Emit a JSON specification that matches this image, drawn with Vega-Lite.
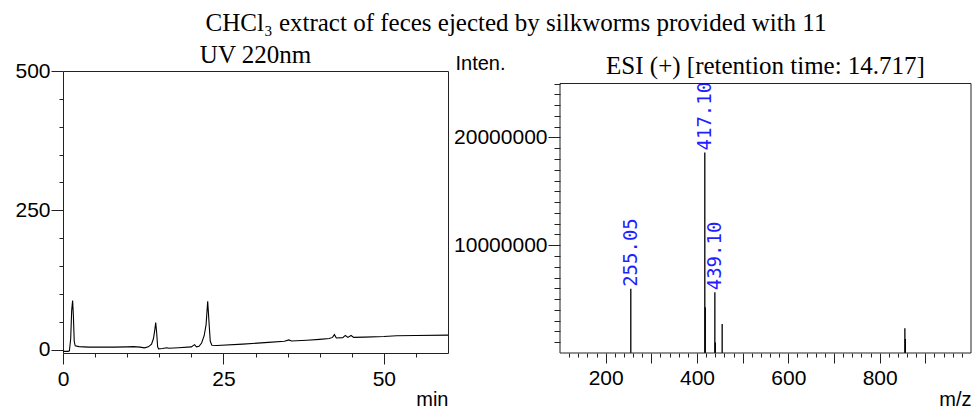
{
  "$schema": "https://vega.github.io/schema/vega-lite/v6.json",
  "background": "white",
  "padding": {"left": 14, "top": 10, "right": 2, "bottom": 0},
  "spacing": 4,
  "title": {
    "text": "CHCl₃ extract of feces ejected by silkworms provided with 11",
    "font": "Liberation Serif",
    "fontSize": 25,
    "fontWeight": "normal",
    "color": "black",
    "anchor": "middle",
    "dx": 23,
    "offset": 7
  },
  "config": {
    "view": {"stroke": "#222", "strokeWidth": 1},
    "axis": {
      "grid": false,
      "domain": false,
      "labelFont": "Liberation Sans",
      "labelFontSize": 21,
      "labelColor": "black",
      "tickColor": "#222",
      "titleFont": "Liberation Sans",
      "titleFontSize": 20,
      "titleFontWeight": "normal",
      "titleColor": "black",
      "labelFlush": false,
      "labelOverlap": false
    }
  },
  "hconcat": [
    {
      "width": 385,
      "height": 282,
      "title": {"text": "UV 220nm", "font": "Liberation Serif", "fontSize": 25, "fontWeight": "normal", "color": "black", "offset": -8},
      "data": {
        "values": [
          {"t": 0, "v": -3}, {"t": 0.8, "v": -3}, {"t": 1.0, "v": -2}, {"t": 1.2, "v": 20},
          {"t": 1.35, "v": 70}, {"t": 1.5, "v": 88}, {"t": 1.62, "v": 60}, {"t": 1.75, "v": 15},
          {"t": 1.9, "v": 7}, {"t": 2.5, "v": 5.5}, {"t": 4, "v": 4.5}, {"t": 6, "v": 4.5},
          {"t": 8, "v": 4.5}, {"t": 10, "v": 5}, {"t": 11, "v": 5.5}, {"t": 12, "v": 4.5},
          {"t": 12.7, "v": 3.2}, {"t": 13.3, "v": 5}, {"t": 13.8, "v": 10}, {"t": 14.1, "v": 20},
          {"t": 14.3, "v": 35}, {"t": 14.45, "v": 48.5}, {"t": 14.6, "v": 30}, {"t": 14.75, "v": 5},
          {"t": 14.9, "v": 1.5}, {"t": 15.5, "v": 2}, {"t": 16.2, "v": 3.5}, {"t": 16.5, "v": 2.5},
          {"t": 18, "v": 3.5}, {"t": 20, "v": 5}, {"t": 20.5, "v": 9}, {"t": 20.8, "v": 5},
          {"t": 21.2, "v": 6}, {"t": 21.6, "v": 12}, {"t": 22, "v": 25}, {"t": 22.3, "v": 45},
          {"t": 22.55, "v": 87}, {"t": 22.75, "v": 50}, {"t": 22.95, "v": 15}, {"t": 23.2, "v": 8},
          {"t": 24, "v": 7.5}, {"t": 28, "v": 10}, {"t": 32, "v": 13}, {"t": 34.5, "v": 15},
          {"t": 35.2, "v": 17.5}, {"t": 35.6, "v": 15.5}, {"t": 38, "v": 17}, {"t": 40, "v": 18.5},
          {"t": 41.5, "v": 20}, {"t": 42, "v": 22}, {"t": 42.3, "v": 27}, {"t": 42.6, "v": 21},
          {"t": 43.6, "v": 21.5}, {"t": 44, "v": 25.5}, {"t": 44.4, "v": 22}, {"t": 44.9, "v": 25.5},
          {"t": 45.3, "v": 22}, {"t": 47, "v": 22.5}, {"t": 50, "v": 23.5}, {"t": 52, "v": 25},
          {"t": 55, "v": 25.5}, {"t": 60, "v": 26}
        ]
      },
      "mark": {"type": "line", "color": "black", "strokeWidth": 1.1, "clip": true},
      "encoding": {
        "x": {
          "field": "t",
          "type": "quantitative",
          "scale": {"domain": [0, 60], "nice": false},
          "axis": {
            "values": [0, 5, 10, 15, 20, 25, 30, 35, 40, 45, 50, 55],
            "labelExpr": "datum.value % 25 === 0 ? datum.label : ''",
            "tickSize": {"condition": {"test": "datum.value % 25 === 0", "value": 11}, "value": 4},
            "labelPadding": 4,
            "title": "min",
            "titleAnchor": "end",
            "titleAlign": "right",
            "titleBaseline": "alphabetic",
            "titleX": 385,
            "titleY": 52
          }
        },
        "y": {
          "field": "v",
          "type": "quantitative",
          "scale": {"domain": [-6, 500], "nice": false, "zero": false},
          "axis": {
            "values": [0, 50, 100, 150, 200, 250, 300, 350, 400, 450, 500],
            "labelExpr": "datum.value % 250 === 0 ? datum.label : ''",
            "tickSize": {"condition": {"test": "datum.value % 250 === 0", "value": 12}, "value": 4},
            "labelPadding": 1,
            "title": null
          }
        }
      }
    },
    {
      "width": 411,
      "height": 282,
      "view": {"stroke": null},
      "title": {"text": "ESI (+) [retention time: 14.717]", "font": "Liberation Serif", "fontSize": 25, "fontWeight": "normal", "color": "black", "offset": -26},
      "data": {
        "values": [
          {"mz": 255.05, "inten": 5950000, "label": "255.05"},
          {"mz": 417.10, "inten": 18600000, "label": "417.10"},
          {"mz": 418.1, "inten": 4240000, "label": ""},
          {"mz": 439.10, "inten": 5630000, "label": "439.10"},
          {"mz": 440.1, "inten": 980000, "label": ""},
          {"mz": 455.1, "inten": 2700000, "label": ""},
          {"mz": 855.2, "inten": 2290000, "label": ""},
          {"mz": 856.2, "inten": 1300000, "label": ""}
        ]
      },
      "layer": [
        {
          "mark": {"type": "rule", "color": "black", "strokeWidth": 1.3},
          "encoding": {
            "x": {
              "field": "mz", "type": "quantitative",
              "scale": {"domain": [100, 1000], "nice": false, "zero": false},
              "axis": {"values": [120, 140, 160, 180, 200, 220, 240, 260, 280, 300, 320, 340, 360, 380, 400, 420, 440, 460, 480, 500, 520, 540, 560, 580, 600, 620, 640, 660, 680, 700, 720, 740, 760, 780, 800, 820, 840, 860, 880, 900, 920, 940, 960, 980], "labelExpr": "datum.value % 200 === 0 ? datum.label : ''", "tickSize": {"condition": {"test": "datum.value % 100 === 0", "value": 10}, "value": 4}, "labelPadding": 4, "title": "m/z", "titleAnchor": "end", "titleAlign": "right", "titleBaseline": "alphabetic", "titleX": 411, "titleY": 52}
            },
            "y": {
              "field": "inten", "type": "quantitative",
              "scale": {"domain": [0, 26160000], "nice": false},
              "axis": {"values": [1000000, 2000000, 3000000, 4000000, 5000000, 6000000, 7000000, 8000000, 9000000, 10000000, 11000000, 12000000, 13000000, 14000000, 15000000, 16000000, 17000000, 18000000, 19000000, 20000000, 21000000, 22000000, 23000000, 24000000, 25000000], "labelExpr": "datum.value % 10000000 === 0 ? format(datum.value, 'd') : ''", "tickSize": {"condition": {"test": "datum.value % 10000000 === 0", "value": 12}, "value": 6}, "labelPadding": 1, "title": "Inten.", "titleAngle": 0, "titleAlign": "left", "titleBaseline": "alphabetic", "titleX": -105, "titleY": -2}
            },
            "y2": {"datum": 0}
          }
        },
        {
          "transform": [{"filter": "datum.label !== ''"}],
          "mark": {"type": "text", "angle": 270, "align": "left", "baseline": "middle", "dx": 2, "font": "DejaVu Sans Mono", "fontSize": 19, "color": "#1f1fff"},
          "encoding": {
            "x": {
              "field": "mz", "type": "quantitative",
              "scale": {"domain": [100, 1000], "nice": false, "zero": false},
              "axis": {"values": [120, 140, 160, 180, 200, 220, 240, 260, 280, 300, 320, 340, 360, 380, 400, 420, 440, 460, 480, 500, 520, 540, 560, 580, 600, 620, 640, 660, 680, 700, 720, 740, 760, 780, 800, 820, 840, 860, 880, 900, 920, 940, 960, 980], "labelExpr": "datum.value % 200 === 0 ? datum.label : ''", "tickSize": {"condition": {"test": "datum.value % 100 === 0", "value": 10}, "value": 4}, "labelPadding": 4, "title": "m/z", "titleAnchor": "end", "titleAlign": "right", "titleBaseline": "alphabetic", "titleX": 411, "titleY": 52}
            },
            "y": {
              "field": "inten", "type": "quantitative",
              "scale": {"domain": [0, 26160000], "nice": false},
              "axis": {"values": [1000000, 2000000, 3000000, 4000000, 5000000, 6000000, 7000000, 8000000, 9000000, 10000000, 11000000, 12000000, 13000000, 14000000, 15000000, 16000000, 17000000, 18000000, 19000000, 20000000, 21000000, 22000000, 23000000, 24000000, 25000000], "labelExpr": "datum.value % 10000000 === 0 ? format(datum.value, 'd') : ''", "tickSize": {"condition": {"test": "datum.value % 10000000 === 0", "value": 12}, "value": 6}, "labelPadding": 1, "title": "Inten.", "titleAngle": 0, "titleAlign": "left", "titleBaseline": "alphabetic", "titleX": -105, "titleY": -2}
            },
            "text": {"field": "label", "type": "nominal"}
          }
        },
        {
          "data": {"values": [{"edge": "left"}]},
          "mark": {"type": "rule", "color": "#222", "strokeWidth": 1},
          "encoding": {
            "x": {
              "datum": 100, "type": "quantitative",
              "scale": {"domain": [100, 1000], "nice": false, "zero": false},
              "axis": {"values": [120, 140, 160, 180, 200, 220, 240, 260, 280, 300, 320, 340, 360, 380, 400, 420, 440, 460, 480, 500, 520, 540, 560, 580, 600, 620, 640, 660, 680, 700, 720, 740, 760, 780, 800, 820, 840, 860, 880, 900, 920, 940, 960, 980], "labelExpr": "datum.value % 200 === 0 ? datum.label : ''", "tickSize": {"condition": {"test": "datum.value % 100 === 0", "value": 10}, "value": 4}, "labelPadding": 4, "title": "m/z", "titleAnchor": "end", "titleAlign": "right", "titleBaseline": "alphabetic", "titleX": 411, "titleY": 52}
            },
            "y": {
              "datum": 0, "type": "quantitative",
              "scale": {"domain": [0, 26160000], "nice": false},
              "axis": {"values": [1000000, 2000000, 3000000, 4000000, 5000000, 6000000, 7000000, 8000000, 9000000, 10000000, 11000000, 12000000, 13000000, 14000000, 15000000, 16000000, 17000000, 18000000, 19000000, 20000000, 21000000, 22000000, 23000000, 24000000, 25000000], "labelExpr": "datum.value % 10000000 === 0 ? format(datum.value, 'd') : ''", "tickSize": {"condition": {"test": "datum.value % 10000000 === 0", "value": 12}, "value": 6}, "labelPadding": 1, "title": "Inten.", "titleAngle": 0, "titleAlign": "left", "titleBaseline": "alphabetic", "titleX": -105, "titleY": -2}
            },
            "y2": {"datum": 25000000}
          }
        },
        {
          "data": {"values": [{"edge": "right"}]},
          "mark": {"type": "rule", "color": "#222", "strokeWidth": 1},
          "encoding": {
            "x": {
              "datum": 1000, "type": "quantitative",
              "scale": {"domain": [100, 1000], "nice": false, "zero": false},
              "axis": {"values": [120, 140, 160, 180, 200, 220, 240, 260, 280, 300, 320, 340, 360, 380, 400, 420, 440, 460, 480, 500, 520, 540, 560, 580, 600, 620, 640, 660, 680, 700, 720, 740, 760, 780, 800, 820, 840, 860, 880, 900, 920, 940, 960, 980], "labelExpr": "datum.value % 200 === 0 ? datum.label : ''", "tickSize": {"condition": {"test": "datum.value % 100 === 0", "value": 10}, "value": 4}, "labelPadding": 4, "title": "m/z", "titleAnchor": "end", "titleAlign": "right", "titleBaseline": "alphabetic", "titleX": 411, "titleY": 52}
            },
            "y": {
              "datum": 0, "type": "quantitative",
              "scale": {"domain": [0, 26160000], "nice": false},
              "axis": {"values": [1000000, 2000000, 3000000, 4000000, 5000000, 6000000, 7000000, 8000000, 9000000, 10000000, 11000000, 12000000, 13000000, 14000000, 15000000, 16000000, 17000000, 18000000, 19000000, 20000000, 21000000, 22000000, 23000000, 24000000, 25000000], "labelExpr": "datum.value % 10000000 === 0 ? format(datum.value, 'd') : ''", "tickSize": {"condition": {"test": "datum.value % 10000000 === 0", "value": 12}, "value": 6}, "labelPadding": 1, "title": "Inten.", "titleAngle": 0, "titleAlign": "left", "titleBaseline": "alphabetic", "titleX": -105, "titleY": -2}
            },
            "y2": {"datum": 25000000}
          }
        },
        {
          "data": {"values": [{"edge": "top"}]},
          "mark": {"type": "rule", "color": "#222", "strokeWidth": 1},
          "encoding": {
            "x": {
              "datum": 100, "type": "quantitative",
              "scale": {"domain": [100, 1000], "nice": false, "zero": false},
              "axis": {"values": [120, 140, 160, 180, 200, 220, 240, 260, 280, 300, 320, 340, 360, 380, 400, 420, 440, 460, 480, 500, 520, 540, 560, 580, 600, 620, 640, 660, 680, 700, 720, 740, 760, 780, 800, 820, 840, 860, 880, 900, 920, 940, 960, 980], "labelExpr": "datum.value % 200 === 0 ? datum.label : ''", "tickSize": {"condition": {"test": "datum.value % 100 === 0", "value": 10}, "value": 4}, "labelPadding": 4, "title": "m/z", "titleAnchor": "end", "titleAlign": "right", "titleBaseline": "alphabetic", "titleX": 411, "titleY": 52}
            },
            "x2": {"datum": 1000},
            "y": {
              "datum": 25000000, "type": "quantitative",
              "scale": {"domain": [0, 26160000], "nice": false},
              "axis": {"values": [1000000, 2000000, 3000000, 4000000, 5000000, 6000000, 7000000, 8000000, 9000000, 10000000, 11000000, 12000000, 13000000, 14000000, 15000000, 16000000, 17000000, 18000000, 19000000, 20000000, 21000000, 22000000, 23000000, 24000000, 25000000], "labelExpr": "datum.value % 10000000 === 0 ? format(datum.value, 'd') : ''", "tickSize": {"condition": {"test": "datum.value % 10000000 === 0", "value": 12}, "value": 6}, "labelPadding": 1, "title": "Inten.", "titleAngle": 0, "titleAlign": "left", "titleBaseline": "alphabetic", "titleX": -105, "titleY": -2}
            }
          }
        },
        {
          "data": {"values": [{"edge": "bottom"}]},
          "mark": {"type": "rule", "color": "#222", "strokeWidth": 1},
          "encoding": {
            "x": {
              "datum": 100, "type": "quantitative",
              "scale": {"domain": [100, 1000], "nice": false, "zero": false},
              "axis": {"values": [120, 140, 160, 180, 200, 220, 240, 260, 280, 300, 320, 340, 360, 380, 400, 420, 440, 460, 480, 500, 520, 540, 560, 580, 600, 620, 640, 660, 680, 700, 720, 740, 760, 780, 800, 820, 840, 860, 880, 900, 920, 940, 960, 980], "labelExpr": "datum.value % 200 === 0 ? datum.label : ''", "tickSize": {"condition": {"test": "datum.value % 100 === 0", "value": 10}, "value": 4}, "labelPadding": 4, "title": "m/z", "titleAnchor": "end", "titleAlign": "right", "titleBaseline": "alphabetic", "titleX": 411, "titleY": 52}
            },
            "x2": {"datum": 1000},
            "y": {
              "datum": 0, "type": "quantitative",
              "scale": {"domain": [0, 26160000], "nice": false},
              "axis": {"values": [1000000, 2000000, 3000000, 4000000, 5000000, 6000000, 7000000, 8000000, 9000000, 10000000, 11000000, 12000000, 13000000, 14000000, 15000000, 16000000, 17000000, 18000000, 19000000, 20000000, 21000000, 22000000, 23000000, 24000000, 25000000], "labelExpr": "datum.value % 10000000 === 0 ? format(datum.value, 'd') : ''", "tickSize": {"condition": {"test": "datum.value % 10000000 === 0", "value": 12}, "value": 6}, "labelPadding": 1, "title": "Inten.", "titleAngle": 0, "titleAlign": "left", "titleBaseline": "alphabetic", "titleX": -105, "titleY": -2}
            }
          }
        }
      ]
    }
  ]
}
